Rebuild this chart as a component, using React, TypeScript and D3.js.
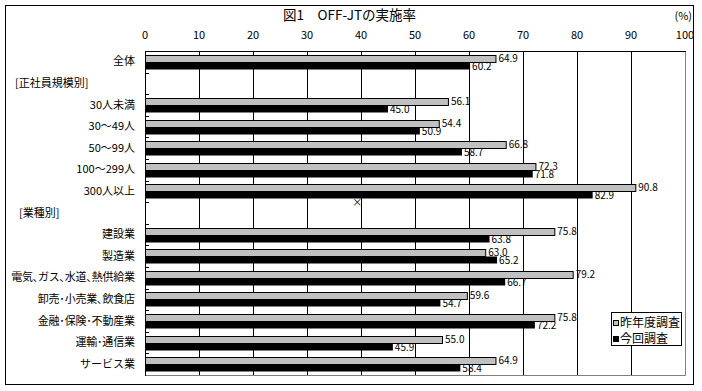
import React from 'react';
import * as d3 from 'd3';

const categories = [
  '全体',
  '[正社員規模別]',
  '30人未満',
  '30～49人',
  '50～99人',
  '100～299人',
  '300人以上',
  '[業種別]',
  '建設業',
  '製造業',
  '電気､ガス､水道､熱供給業',
  '卸売･小売業､飲食店',
  '金融･保険･不動産業',
  '運輸･通信業',
  'サービス業',
];
const groupHeaders = ['[正社員規模別]', '[業種別]'];
const prevYear: (number | null)[] = [64.9, null, 56.1, 54.4, 66.8, 72.3, 90.8, null, 75.8, 63.0, 79.2, 59.6, 75.8, 55.0, 64.9];
const thisYear: (number | null)[] = [60.2, null, 45.0, 50.9, 58.7, 71.8, 82.9, null, 63.8, 65.2, 66.7, 54.7, 72.2, 45.9, 58.4];
const xTicks = [0, 10, 20, 30, 40, 50, 60, 70, 80, 90, 100];
const seriesNames = ['昨年度調査', '今回調査'];
const title = '図1　OFF-JTの実施率';
const unit = '(%)';

const FONT = "'Noto Sans CJK JP', 'Noto Sans', sans-serif";

function halfPunctWidth(s: string, fs: number): number | undefined {
  const halves = (s.match(/[､･]/g) || []).length;
  if (!halves) return undefined;
  let w = 0;
  for (const ch of s) {
    if (/[､･]/.test(ch)) w += fs * 0.42;
    else w += fs;
  }
  return w;
}

export default function App() {
  const W = 702, H = 391;
  const left = 145, right = 685, top = 51, bottom = 375;
  const x = d3.scaleLinear().domain([0, 100]).range([left, right]);
  const y = d3.scaleBand<string>().domain(categories).range([top, bottom]).paddingInner(0).paddingOuter(0);
  const bw = y.bandwidth();
  const barH = 7;
  const off = (bw - barH * 2) / 2;

  return (
    <svg width={W} height={H} style={{ position: 'absolute', left: 0, top: 0, background: '#fff' }} fontFamily={FONT}>
      <rect x={0} y={0} width={W} height={H} fill="#fff" />
      <rect x={5.5} y={5.5} width={688} height={379} fill="none" stroke="#000" strokeWidth={1} />
      <text x={283} y={20} fontSize={13.5} fill="#000">{title}</text>
      <text x={692} y={20} fontSize={11} textAnchor="end" fill="#000">{unit}</text>

      {/* x tick labels */}
      {xTicks.map((t) => (
        <text key={t} x={x(t)} y={39} fontSize={11} textAnchor="middle" fill="#000">{t}</text>
      ))}

      {/* gridlines */}
      {xTicks.filter((t) => t > 0 && t < 100).map((t) => (
        <line key={t} x1={Math.round(x(t)) + 0.5} x2={Math.round(x(t)) + 0.5} y1={top + 0.5} y2={bottom} stroke="#000" strokeWidth={1} />
      ))}
      {/* plot border */}
      <line x1={right + 0.5} x2={right + 0.5} y1={top + 0.5} y2={bottom + 0.5} stroke="#808080" />
      <line x1={left} x2={right + 0.5} y1={bottom + 0.5} y2={bottom + 0.5} stroke="#808080" />
      <line x1={left} x2={right + 1} y1={top + 0.5} y2={top + 0.5} stroke="#000" />

      {/* bars */}
      {categories.map((c, i) => {
        const y0 = (y(c) as number) + off;
        const p = prevYear[i];
        const q = thisYear[i];
        return (
          <g key={c}>
            {p != null && (
              <rect x={left + 0.5} y={Math.round(y0) + 0.5} width={x(p) - left} height={barH} fill="#c0c0c0" stroke="#000" strokeWidth={1} />
            )}
            {q != null && (
              <rect x={left} y={Math.round(y0) + barH + 0.5} width={x(q) - left} height={barH} fill="#000" />
            )}
          </g>
        );
      })}

      {/* value labels */}
      {categories.map((c, i) => {
        const y0 = Math.round((y(c) as number) + off);
        const p = prevYear[i];
        const q = thisYear[i];
        return (
          <g key={'l' + c} fontSize={10} fill="#000">
            {p != null && <text x={x(p) + 3} y={y0 + barH}>{p.toFixed(1)}</text>}
            {q != null && <text x={x(q) + 2} y={y0 + barH * 2 + 0.5}>{q.toFixed(1)}</text>}
          </g>
        );
      })}

      {/* left axis */}
      <line x1={left + 0.5} x2={left + 0.5} y1={top} y2={bottom + 1} stroke="#000" />
      {categories.slice(1).map((c) => (
        <line key={'t' + c} x1={left} x2={left + 4} y1={Math.round(y(c) as number) + 0.5} y2={Math.round(y(c) as number) + 0.5} stroke="#000" />
      ))}

      {/* category labels */}
      {categories.map((c) => {
        const cy = (y(c) as number) + bw / 2;
        const isGroup = groupHeaders.includes(c);
        const tl = halfPunctWidth(c, 11);
        return (
          <text
            key={'c' + c}
            x={isGroup ? (c === groupHeaders[0] ? 15 : 19) : 135}
            y={cy + 3.5}
            fontSize={11}
            textAnchor={isGroup ? 'start' : 'end'}
            fill="#000"
            {...(tl ? { textLength: tl, lengthAdjust: 'spacing' } : {})}
          >
            {c}
          </text>
        );
      })}

      {/* stray mark */}
      <text x={x(39.3)} y={(y(categories[7]) as number) + 3.5} fontSize={10} textAnchor="middle" fill="#000">×</text>

      {/* legend */}
      <rect x={611.5} y={312.5} width={70} height={33} fill="#fff" stroke="#000" />
      <rect x={613.5} y={320.5} width={5} height={5} fill="#c0c0c0" stroke="#000" />
      <rect x={613} y={336} width={6} height={6} fill="#000" />
      <text x={620} y={327} fontSize={12} fill="#000">{seriesNames[0]}</text>
      <text x={620} y={343} fontSize={12} fill="#000">{seriesNames[1]}</text>
    </svg>
  );
}
